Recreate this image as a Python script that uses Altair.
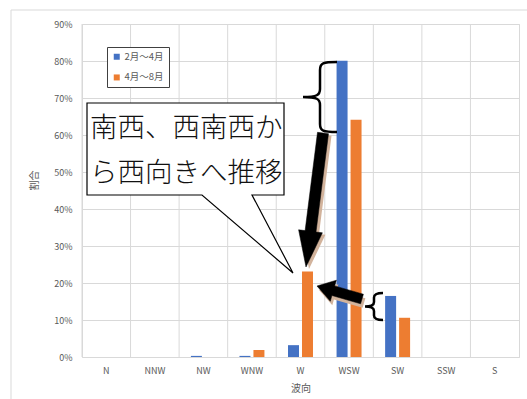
import math

import altair as alt
import pandas as pd

# Wind direction categories and the share of each period (percent)
directions = ["N", "NNW", "NW", "WNW", "W", "WSW", "SW", "SSW", "S"]
periods = ["2月～4月", "4月～8月"]
share_feb_apr = [0.0, 0.0, 0.3, 0.3, 3.2, 80.1, 16.5, 0.0, 0.0]
share_apr_aug = [0.0, 0.0, 0.0, 1.9, 23.1, 64.1, 10.6, 0.0, 0.0]
period_colors = ["#4472C4", "#ED7D31"]
y_ticks = [0.0, 0.1, 0.2, 0.3, 0.4, 0.5, 0.6, 0.7, 0.8, 0.9]
note_lines = ["南西、西南西か", "ら西向きへ推移"]

FONT = "Noto Sans CJK JP"
GRID = "#d9d9d9"
LABEL = "#595959"

# Plot area geometry inside the 527x399 canvas
PAD_L, PAD_T, PAD_R, PAD_B = 82, 24, 8, 42
W = 527 - PAD_L - PAD_R
H = 399 - PAD_T - PAD_B

rows = []
for d, a, b in zip(directions, share_feb_apr, share_apr_aug):
    rows.append({"dir": d, "period": periods[0], "share": a / 100})
    rows.append({"dir": d, "period": periods[1], "share": b / 100})
df = pd.DataFrame(rows)
dir_df = pd.DataFrame({"dir": directions})
one = pd.DataFrame({"k": [0]})


# ---- helpers for annotation shapes (canvas pixel coordinates) ----
def polygon(points):
    return "M" + " L".join(f"{x:.1f},{y:.1f}" for x, y in points) + " Z"


def arrow(tail, tip, shaft_w, head_w, head_len, dx=0.0, dy=0.0):
    tx, ty = tail[0] + dx, tail[1] + dy
    px_, py_ = tip[0] + dx, tip[1] + dy
    vx, vy = px_ - tx, py_ - ty
    n = math.hypot(vx, vy)
    ux, uy = vx / n, vy / n
    nx, ny = -uy, ux
    bx, by = px_ - ux * head_len, py_ - uy * head_len
    s, h = shaft_w / 2, head_w / 2
    pts = [
        (tx + nx * s, ty + ny * s),
        (bx + nx * s, by + ny * s),
        (bx + nx * h, by + ny * h),
        (px_, py_),
        (bx - nx * h, by - ny * h),
        (bx - nx * s, by - ny * s),
        (tx - nx * s, ty - ny * s),
    ]
    return polygon(pts)


def brace(x_end, x_mid, x_tip, y_top, y_bot):
    ym = (y_top + y_bot) / 2
    r = min(8.0, (y_bot - y_top) / 6)
    return (
        f"M{x_end},{y_top} C{x_mid + 3},{y_top} {x_mid},{y_top + 1} {x_mid},{y_top + r} "
        f"L{x_mid},{ym - r} C{x_mid},{ym - 2} {x_mid - 3},{ym} {x_tip},{ym} "
        f"C{x_mid - 3},{ym} {x_mid},{ym + 2} {x_mid},{ym + r} "
        f"L{x_mid},{y_bot - r} C{x_mid},{y_bot - 1} {x_mid + 3},{y_bot} {x_end},{y_bot}"
    )


def shape_layer(path, **kw):
    # a symbol of size 4 draws its custom path at 1 px per unit
    return alt.Chart(one).mark_point(shape=path, size=4, opacity=1, **kw).encode(
        x=alt.value(-PAD_L), y=alt.value(-PAD_T)
    )


x_axis = alt.Axis(
    title="波向",
    labelAngle=0,
    ticks=False,
    domain=False,
    grid=False,
    labelFont=FONT,
    labelFontSize=9,
    labelColor=LABEL,
    labelPadding=9,
    titleFont=FONT,
    titleFontSize=10,
    titleFontWeight="normal",
    titleColor=LABEL,
    titleX=W / 2,
    titleY=31,
    titleBaseline="middle",
)
x_scale = alt.Scale(paddingInner=0, paddingOuter=0)

# ---- chart layers ----
frame = alt.Chart(one).mark_rect(fill="white", fillOpacity=0, stroke=GRID, strokeWidth=1).encode(
    x=alt.value(11 - PAD_L), y=alt.value(10 - PAD_T), x2=alt.value(W + 40), y2=alt.value(H + 80)
)

# vertical grid lines on the category boundaries
x_grid = alt.Chart(dir_df).mark_rule(color=GRID, strokeWidth=1).encode(
    x=alt.X("dir:N", sort=directions, bandPosition=0, scale=x_scale, axis=x_axis),
    y=alt.value(0),
    y2=alt.value(H),
)

bars = alt.Chart(df).mark_bar().encode(
    x=alt.X("dir:N", sort=directions, scale=x_scale, axis=x_axis),
    xOffset=alt.XOffset(
        "period:N", sort=periods, scale=alt.Scale(paddingInner=0.214, paddingOuter=0.843)
    ),
    y=alt.Y(
        "share:Q",
        stack=False,
        scale=alt.Scale(domain=[0, 0.9], nice=False),
        axis=alt.Axis(
            title="割合",
            values=y_ticks,
            format=".0%",
            ticks=False,
            domain=False,
            grid=True,
            gridColor=GRID,
            labelFont=FONT,
            labelFontSize=9,
            labelColor=LABEL,
            labelPadding=10,
            titleFont=FONT,
            titleFontSize=10,
            titleFontWeight="normal",
            titleColor=LABEL,
            titleAngle=270,
            titleX=34 - PAD_L,
            titleY=180 - PAD_T,
            titleAlign="center",
            titleBaseline="middle",
        ),
    ),
    color=alt.Color(
        "period:N",
        sort=periods,
        scale=alt.Scale(domain=periods, range=period_colors),
        title=None,
        legend=alt.Legend(
            orient="none",
            legendX=107 - PAD_L,
            legendY=47 - PAD_T,
            fillColor="white",
            strokeColor="#404040",
            padding=5,
            rowPadding=9.7,
            symbolType="square",
            symbolSize=36,
            symbolStrokeWidth=0,
            labelFont=FONT,
            labelFontSize=9.5,
            labelColor=LABEL,
            labelOffset=3,
        ),
    ),
)

callout = shape_layer(
    polygon([(87, 103), (284, 103), (284, 195), (252, 195), (293, 273), (202, 195), (87, 195)]),
    filled=True,
    fill="white",
    stroke="black",
    strokeWidth=1.2,
)

note = [
    alt.Chart(one).mark_text(
        text=line, font=FONT, fontSize=27.5, fontWeight=300, align="left",
        baseline="alphabetic", color="#111111",
    ).encode(x=alt.value(90 - PAD_L), y=alt.value(yb - PAD_T))
    for line, yb in zip(note_lines, [137, 182])
]

shadow_color = "#d2b39c"
arrow1 = dict(tail=(323, 133), tip=(306, 267), shaft_w=11, head_w=24, head_len=36)
arrow2 = dict(tail=(362, 299), tip=(317, 286), shaft_w=10, head_w=22, head_len=17)
arrows = [
    shape_layer(arrow(**arrow1, dx=3, dy=2), filled=True, fill=shadow_color, stroke=shadow_color, strokeWidth=0),
    shape_layer(arrow(**arrow2, dx=2, dy=4), filled=True, fill=shadow_color, stroke=shadow_color, strokeWidth=0),
    shape_layer(arrow(**arrow1), filled=True, fill="black", stroke="black", strokeWidth=0.5),
    shape_layer(arrow(**arrow2), filled=True, fill="black", stroke="black", strokeWidth=0.5),
]

braces = [
    shape_layer(brace(337, 320, 303, 62, 132), filled=False, stroke="black", strokeWidth=2.5),
    shape_layer(brace(383, 374, 365, 293, 320), filled=False, stroke="black", strokeWidth=2.5),
]

chart = (
    alt.layer(frame, x_grid, bars, callout, *note, *arrows, *braces)
    .properties(
        width=W,
        height=H,
        padding={"left": PAD_L, "top": PAD_T, "right": PAD_R, "bottom": PAD_B},
        autosize=alt.AutoSizeParams(type="none"),
        background="white",
    )
    .configure_view(stroke=GRID, strokeWidth=1)
)

chart.save("out.html", embed_options={"renderer": "svg", "actions": False})
